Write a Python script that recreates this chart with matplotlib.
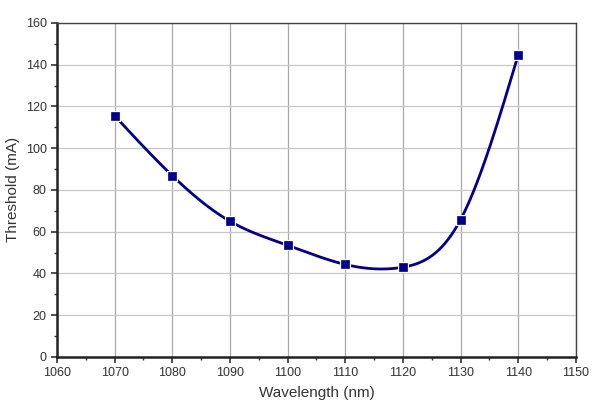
import numpy as np
import matplotlib
matplotlib.use("Agg")
import matplotlib.pyplot as plt
from matplotlib.ticker import MultipleLocator

wavelength = [1070, 1080, 1090, 1100, 1110, 1120, 1130, 1140]
threshold = [115.5, 86.8, 65.0, 53.5, 44.3, 43.0, 65.8, 144.8]

def natural_spline(x, y, xs):
    x = np.asarray(x, float); y = np.asarray(y, float)
    n = len(x)
    h = np.diff(x)
    A = np.zeros((n, n)); b = np.zeros(n)
    A[0, 0] = 1; A[-1, -1] = 1
    for i in range(1, n - 1):
        A[i, i - 1] = h[i - 1]
        A[i, i] = 2 * (h[i - 1] + h[i])
        A[i, i + 1] = h[i]
        b[i] = 3 * ((y[i + 1] - y[i]) / h[i] - (y[i] - y[i - 1]) / h[i - 1])
    c = np.linalg.solve(A, b)
    out = np.empty_like(xs)
    for k, xv in enumerate(xs):
        i = min(max(np.searchsorted(x, xv) - 1, 0), n - 2)
        dx = xv - x[i]
        bi = (y[i + 1] - y[i]) / h[i] - h[i] * (2 * c[i] + c[i + 1]) / 3
        di = (c[i + 1] - c[i]) / (3 * h[i])
        out[k] = y[i] + bi * dx + c[i] * dx ** 2 + di * dx ** 3
    return out

plt.rcParams['font.family'] = ['Liberation Sans', 'DejaVu Sans']
fig = plt.figure(figsize=(6.02, 4.12), dpi=100)
ax = fig.add_axes([0.0947, 0.1335, 0.862, 0.811])

xs = np.linspace(wavelength[0], wavelength[-1], 400)
ys = natural_spline(wavelength, threshold, xs)
color = '#00008c'
ax.plot(xs, ys, color=color, lw=2, zorder=3)
ax.plot(wavelength, threshold, ls='none', marker='s', ms=6, mfc=color,
        mec='white', mew=2.2, zorder=4)
ax.plot(wavelength, threshold, ls='none', marker='s', ms=5.5, mfc=color,
        mec=color, mew=0.5, zorder=5)

ax.set_xlim(1060, 1150)
ax.set_ylim(0, 160)
ax.xaxis.set_major_locator(MultipleLocator(10))
ax.xaxis.set_minor_locator(MultipleLocator(5))
ax.yaxis.set_major_locator(MultipleLocator(20))
ax.yaxis.set_minor_locator(MultipleLocator(10))
ax.grid(True, which='major', axis='x', color='#a8a8a8', lw=0.9)
ax.grid(True, which='major', axis='y', color='#c8c8c8', lw=0.9)
ax.set_axisbelow(True)
ax.tick_params(which='major', direction='out', length=4, width=1.2, labelsize=9, colors='#333333')
ax.tick_params(which='minor', direction='out', length=2.5, width=1.0, colors='#333333')
ax.tick_params(labelcolor='#333333')
for s in ['left', 'bottom']:
    ax.spines[s].set_linewidth(1.8)
    ax.spines[s].set_color('#222222')
for s in ['top', 'right']:
    ax.spines[s].set_linewidth(1.0)
    ax.spines[s].set_color('#444444')
ax.set_xlabel('Wavelength (nm)', fontsize=11, color='#333333', labelpad=5)
ax.set_ylabel('Threshold (mA)', fontsize=11, color='#333333', labelpad=4)

fig.savefig('out.png', dpi=100)
